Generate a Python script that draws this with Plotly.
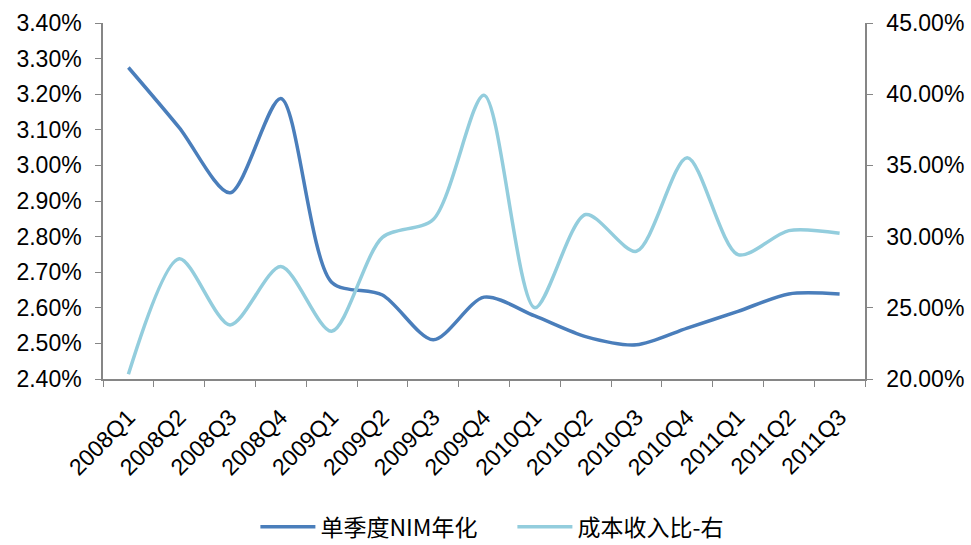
import plotly.graph_objects as go

categories = ["2008Q1", "2008Q2", "2008Q3", "2008Q4", "2009Q1", "2009Q2", "2009Q3", "2009Q4",
              "2010Q1", "2010Q2", "2010Q3", "2010Q4", "2011Q1", "2011Q2", "2011Q3"]
nim = [3.275, 3.106, 2.923, 3.188, 2.672, 2.636, 2.510, 2.630,
       2.577, 2.519, 2.496, 2.543, 2.590, 2.639, 2.639]
cost_income = [20.33, 28.45, 23.80, 27.90, 23.35, 29.95, 31.20, 39.93,
               25.00, 31.55, 28.97, 35.54, 28.73, 30.42, 30.23]

left_ticks = [2.40, 2.50, 2.60, 2.70, 2.80, 2.90, 3.00, 3.10, 3.20, 3.30, 3.40]
right_ticks = [20, 25, 30, 35, 40, 45]

name_nim = "单季度NIM年化"
name_ci = "成本收入比-右"

fig = go.Figure()
fig.add_trace(go.Scatter(
    x=categories, y=nim, name=name_nim, mode="lines",
    line=dict(color="#4A7EBB", width=3.5, shape="spline", smoothing=0.8),
    yaxis="y"))
fig.add_trace(go.Scatter(
    x=categories, y=cost_income, name=name_ci, mode="lines",
    line=dict(color="#93CDDD", width=3.5, shape="spline", smoothing=0.8),
    yaxis="y2"))

axis_font = dict(family="Liberation Sans, Arial, sans-serif", size=23, color="#000000")

fig.update_layout(
    width=971, height=545,
    margin=dict(l=103, r=106, t=23, b=166, autoexpand=False),
    paper_bgcolor="white", plot_bgcolor="white",
    showlegend=True,
    legend=dict(orientation="h", x=0.2, y=-0.415, xanchor="left", yanchor="middle",
                font=dict(family="Noto Sans CJK SC, sans-serif", size=23, color="#000000"),
                entrywidth=187, entrywidthmode="pixels", itemwidth=55),
    xaxis=dict(type="category", tickangle=-45, tickfont=axis_font, automargin=False,
               range=[-0.5, len(categories) - 0.5], ticklabelstandoff=14,
               showline=True, linecolor="#868686", linewidth=1.5,
               ticks="outside", ticklen=6, tickcolor="#868686", tickson="boundaries",
               showgrid=False, zeroline=False),
    yaxis=dict(range=[2.40, 3.40], tickvals=left_ticks, automargin=False,
               ticktext=[f"{v:.2f}%" for v in left_ticks], tickfont=axis_font,
               showline=True, linecolor="#868686", linewidth=1.5,
               ticks="outside", ticklen=6, tickcolor="#868686", ticklabelstandoff=9,
               showgrid=False, zeroline=False),
    yaxis2=dict(range=[20, 45], tickvals=right_ticks, automargin=False,
                ticktext=[f"{v:.2f}%" for v in right_ticks], tickfont=axis_font,
                overlaying="y", side="right",
                showline=True, linecolor="#868686", linewidth=1.5,
                ticks="outside", ticklen=6, tickcolor="#868686", ticklabelstandoff=9,
                showgrid=False, zeroline=False),
)

fig.write_html("out.html")
